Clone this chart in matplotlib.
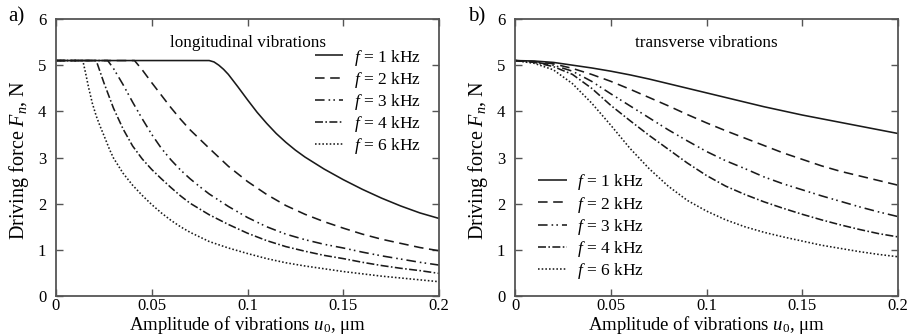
import matplotlib
matplotlib.use("Agg")
import matplotlib.pyplot as plt
from matplotlib.ticker import FuncFormatter

plt.rcParams['font.family'] = ['Liberation Serif', 'DejaVu Serif']
plt.rcParams['mathtext.fontset'] = 'custom'
plt.rcParams['mathtext.rm'] = 'Liberation Serif'
plt.rcParams['mathtext.it'] = 'Liberation Serif:italic'

freq_labels = ["1 kHz", "2 kHz", "3 kHz", "4 kHz", "6 kHz"]

# ---- longitudinal vibrations (panel a) ----
long_x_1 = [0, 0.08, 0.0825, 0.085, 0.0875, 0.09, 0.095, 0.1, 0.105, 0.11, 0.115, 0.12, 0.125, 0.13, 0.14, 0.15, 0.16, 0.17, 0.18, 0.19, 0.2]
long_y_1 = [5.1, 5.1, 5.07, 5.0, 4.91, 4.8, 4.53, 4.25, 3.98, 3.74, 3.52, 3.33, 3.16, 3.01, 2.75, 2.52, 2.31, 2.12, 1.95, 1.8, 1.68]
long_x_2 = [0, 0.041, 0.045, 0.05, 0.055, 0.06, 0.065, 0.07, 0.08, 0.09, 0.1, 0.11, 0.12, 0.13, 0.14, 0.15, 0.16, 0.17, 0.18, 0.19, 0.2]
long_y_2 = [5.1, 5.1, 4.9, 4.62, 4.35, 4.08, 3.83, 3.6, 3.2, 2.81, 2.48, 2.2, 1.96, 1.77, 1.61, 1.47, 1.34, 1.23, 1.14, 1.05, 0.98]
long_x_3 = [0, 0.027, 0.03, 0.035, 0.04, 0.045, 0.05, 0.055, 0.06, 0.065, 0.07, 0.075, 0.08, 0.09, 0.1, 0.11, 0.12, 0.13, 0.14, 0.15, 0.16, 0.17, 0.18, 0.19, 0.2]
long_y_3 = [5.1, 5.1, 4.93, 4.58, 4.2, 3.84, 3.5, 3.2, 2.95, 2.73, 2.54, 2.37, 2.21, 1.94, 1.7, 1.5, 1.34, 1.22, 1.12, 1.04, 0.95, 0.87, 0.8, 0.73, 0.67]
long_x_4 = [0, 0.021, 0.025, 0.03, 0.035, 0.04, 0.045, 0.05, 0.055, 0.06, 0.065, 0.07, 0.08, 0.09, 0.1, 0.11, 0.12, 0.13, 0.14, 0.15, 0.16, 0.17, 0.18, 0.19, 0.2]
long_y_4 = [5.1, 5.1, 4.62, 4.07, 3.62, 3.25, 2.97, 2.74, 2.54, 2.35, 2.17, 2.01, 1.76, 1.55, 1.36, 1.2, 1.07, 0.97, 0.88, 0.81, 0.73, 0.66, 0.6, 0.55, 0.49]
long_x_6 = [0, 0.014, 0.0155, 0.017, 0.019, 0.021, 0.023, 0.025, 0.028, 0.03, 0.035, 0.04, 0.045, 0.05, 0.055, 0.06, 0.065, 0.07, 0.08, 0.09, 0.1, 0.11, 0.12, 0.13, 0.14, 0.15, 0.16, 0.17, 0.18, 0.19, 0.2]
long_y_6 = [5.1, 5.1, 4.82, 4.52, 4.17, 3.9, 3.68, 3.48, 3.17, 2.99, 2.66, 2.4, 2.18, 1.98, 1.8, 1.64, 1.5, 1.38, 1.18, 1.04, 0.92, 0.81, 0.72, 0.65, 0.59, 0.53, 0.48, 0.43, 0.39, 0.35, 0.31]

# ---- transverse vibrations (panel b) ----
trans_x = [0, 0.01, 0.02, 0.03, 0.04, 0.05, 0.06, 0.07, 0.08, 0.09, 0.1, 0.11, 0.12, 0.13, 0.14, 0.15, 0.16, 0.17, 0.18, 0.19, 0.2]
trans_y_1 = [5.1, 5.09, 5.06, 5.0, 4.94, 4.87, 4.79, 4.7, 4.6, 4.5, 4.4, 4.3, 4.2, 4.1, 4.01, 3.92, 3.84, 3.76, 3.68, 3.6, 3.52]
trans_y_2 = [5.1, 5.08, 5.03, 4.93, 4.8, 4.65, 4.48, 4.3, 4.12, 3.93, 3.75, 3.58, 3.42, 3.26, 3.1, 2.96, 2.82, 2.7, 2.6, 2.5, 2.4]
trans_y_3 = [5.1, 5.07, 5.0, 4.87, 4.65, 4.38, 4.12, 3.86, 3.6, 3.36, 3.13, 2.93, 2.76, 2.58, 2.43, 2.3, 2.17, 2.05, 1.93, 1.82, 1.72]
trans_y_4 = [5.1, 5.06, 4.97, 4.8, 4.5, 4.13, 3.8, 3.48, 3.18, 2.88, 2.61, 2.38, 2.2, 2.04, 1.9, 1.77, 1.65, 1.54, 1.44, 1.35, 1.28]
trans_y_6 = [5.1, 5.04, 4.9, 4.6, 4.18, 3.7, 3.2, 2.76, 2.38, 2.07, 1.84, 1.65, 1.5, 1.38, 1.28, 1.19, 1.1, 1.03, 0.96, 0.9, 0.85]

x_ticks = [0, 0.05, 0.1, 0.15, 0.2]
y_ticks = [0, 1, 2, 3, 4, 5, 6]

dash_styles = [
    (0, ()),
    (0, (6, 3.5)),
    (0, (6, 2.5, 1, 2, 1, 2.5)),
    (0, (5, 1.5, 1, 1.5)),
    (0, (1, 1.3)),
]
line_color = "#1a1a1a"
spine_color = "#555555"

fig = plt.figure(figsize=(9.10, 3.36), dpi=100)
ax1 = fig.add_axes([56 / 910, 40 / 336, 383 / 910, 277 / 336])
ax2 = fig.add_axes([515 / 910, 40 / 336, 383 / 910, 277 / 336])

long_data = [(long_x_1, long_y_1), (long_x_2, long_y_2), (long_x_3, long_y_3),
             (long_x_4, long_y_4), (long_x_6, long_y_6)]
trans_data = [trans_y_1, trans_y_2, trans_y_3, trans_y_4, trans_y_6]

for (xs, ys), ls, lab in zip(long_data, dash_styles, freq_labels):
    ax1.plot(xs, ys, color=line_color, lw=1.15, linestyle=ls, label="$f$ = " + lab)
for ys, ls, lab in zip(trans_data, dash_styles, freq_labels):
    ax2.plot(trans_x, ys, color=line_color, lw=1.15, linestyle=ls, label="$f$ = " + lab)

fmt = FuncFormatter(lambda v, p: ("%g" % v))
for ax in (ax1, ax2):
    ax.set_xlim(0, 0.2)
    ax.set_ylim(0, 6)
    ax.set_xticks(x_ticks)
    ax.set_yticks(y_ticks)
    ax.xaxis.set_major_formatter(fmt)
    ax.tick_params(direction="in", top=True, right=True, length=5, width=1.0,
                   labelsize=12, color=spine_color)
    ax.tick_params(axis="x", pad=1.5)
    ax.tick_params(axis="y", pad=7)
    for s in ax.spines.values():
        s.set_color(spine_color)
        s.set_linewidth(1.3)
    ax.set_xlabel("Amplitude of vibrations $u_0$, μm", fontsize=13.5, va="center")
    ax.xaxis.set_label_coords(0.5, -0.106)
    ax.set_ylabel("Driving force $F_n$, N", fontsize=14.5, va="center")
    ax.yaxis.set_label_coords(-0.097, 0.49)

ax1.text(0.5, 0.913, "longitudinal vibrations", transform=ax1.transAxes,
         ha="center", va="center", fontsize=12.3)
ax2.text(0.5, 0.913, "transverse vibrations", transform=ax2.transAxes,
         ha="center", va="center", fontsize=12.3)

leg_kw = dict(frameon=False, fontsize=12.5, handlelength=1.65, handletextpad=0.6,
              labelspacing=0.12, borderpad=0, borderaxespad=0)
ax1.legend(loc="upper left", bbox_to_anchor=(0.675, 0.897), **leg_kw)
ax2.legend(loc="upper left", bbox_to_anchor=(0.06, 0.446), **leg_kw)

fig.text(8 / 910, 1 - 17 / 336, "a)", fontsize=15, ha="left", va="center")
fig.text(468 / 910, 1 - 17 / 336, "b)", fontsize=15, ha="left", va="center")

fig.savefig("out.png", dpi=100)
